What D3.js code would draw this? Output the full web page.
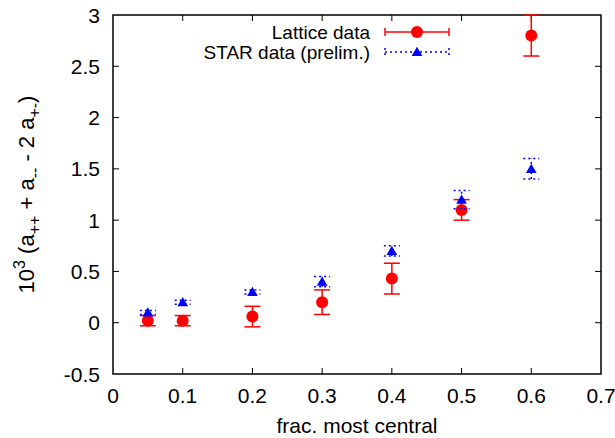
<!DOCTYPE html>
<html>
<head>
<meta charset="utf-8">
<script src="https://cdn.jsdelivr.net/npm/d3@7"></script>
<style>
  body { margin: 0; background: white; }
  svg { display: block; font-family: "Liberation Sans", Arial, sans-serif; }
</style>
</head>
<body>
<svg width="615" height="438"></svg>
<script>
  // data
  const frac = [0.05, 0.1, 0.2, 0.3, 0.4, 0.5, 0.6];
  const latticeVal = [0.02, 0.02, 0.06, 0.2, 0.43, 1.1, 2.8];
  const latticeErr = [0.05, 0.05, 0.1, 0.12, 0.15, 0.1, 0.2];
  const starVal = [0.1, 0.2, 0.3, 0.4, 0.7, 1.2, 1.5];
  const starErr = [0.02, 0.02, 0.02, 0.05, 0.05, 0.09, 0.1];
  const xTicks = [0, 0.1, 0.2, 0.3, 0.4, 0.5, 0.6, 0.7];
  const yTicks = [-0.5, 0, 0.5, 1, 1.5, 2, 2.5, 3];

  const margin = {left: 113, right: 14, top: 15, bottom: 64};
  const width = 615, height = 438;
  const fs = 21;

  const svg = d3.select("svg");

  const x = d3.scaleLinear().domain([0, 0.7]).range([margin.left, width - margin.right]);
  const y = d3.scaleLinear().domain([-0.5, 3]).range([height - margin.bottom, margin.top]);

  const red = "#ff0000", blue = "#0000ff";

  // frame
  svg.append("rect")
      .attr("x", x(0)).attr("y", y(3))
      .attr("width", x(0.7) - x(0)).attr("height", y(-0.5) - y(3))
      .attr("fill", "none").attr("stroke", "black").attr("stroke-width", 1.5);

  // ticks, inward on all four sides
  const tk = 6;
  const ticks = svg.append("g").attr("stroke", "black").attr("stroke-width", 1);
  xTicks.slice(1, -1).forEach(t => {
    ticks.append("line").attr("x1", x(t)).attr("x2", x(t)).attr("y1", y(-0.5)).attr("y2", y(-0.5) - tk);
    ticks.append("line").attr("x1", x(t)).attr("x2", x(t)).attr("y1", y(3)).attr("y2", y(3) + tk);
  });
  yTicks.slice(1, -1).forEach(t => {
    ticks.append("line").attr("x1", x(0)).attr("x2", x(0) + tk).attr("y1", y(t)).attr("y2", y(t));
    ticks.append("line").attr("x1", x(0.7)).attr("x2", x(0.7) - tk).attr("y1", y(t)).attr("y2", y(t));
  });

  // tick labels
  svg.append("g").selectAll("text").data(xTicks).join("text")
      .attr("x", d => x(d)).attr("y", 403)
      .attr("text-anchor", "middle").attr("font-size", fs)
      .text(d => d);
  svg.append("g").selectAll("text").data(yTicks).join("text")
      .attr("x", 100).attr("y", d => y(d) + 7.5)
      .attr("text-anchor", "end").attr("font-size", fs)
      .text(d => d);

  // axis titles
  svg.append("text")
      .attr("x", (x(0) + x(0.7)) / 2).attr("y", 433)
      .attr("text-anchor", "middle").attr("font-size", 21)
      .text("frac. most central");

  const yl = svg.append("text")
      .attr("transform", `translate(34,${(y(-0.5) + y(3)) / 2}) rotate(-90)`)
      .attr("text-anchor", "middle").attr("font-size", 22);
  const sub = 16;
  yl.append("tspan").text("10");
  yl.append("tspan").attr("font-size", sub).attr("dy", -9).text("3");
  yl.append("tspan").attr("dy", 9).text(" (a");
  yl.append("tspan").attr("font-size", sub).attr("dy", 6).text("++");
  yl.append("tspan").attr("dy", -6).text(" + a");
  yl.append("tspan").attr("font-size", sub).attr("dy", 6).text("--");
  yl.append("tspan").attr("dy", -6).text(" - 2 a");
  yl.append("tspan").attr("font-size", sub).attr("dy", 6).text("+-");
  yl.append("tspan").attr("dy", -6).text(")");

  const cap = 8;
  const lattice = frac.map((f, i) => ({x: f, v: latticeVal[i], e: latticeErr[i]}));
  const star = frac.map((f, i) => ({x: f, v: starVal[i], e: starErr[i]}));

  function errorBars(g, data, color, dash) {
    const gg = g.append("g").attr("stroke", color).attr("stroke-width", 1.5)
        .attr("stroke-dasharray", dash);
    data.forEach(d => {
      const lo = y(Math.max(d.v - d.e, -0.5)), hi = y(Math.min(d.v + d.e, 3));
      gg.append("line").attr("x1", x(d.x)).attr("x2", x(d.x)).attr("y1", lo).attr("y2", hi);
      gg.append("line").attr("x1", x(d.x) - cap).attr("x2", x(d.x) + cap).attr("y1", lo).attr("y2", lo);
      gg.append("line").attr("x1", x(d.x) - cap).attr("x2", x(d.x) + cap).attr("y1", hi).attr("y2", hi);
    });
  }

  const tri = d3.symbol().type(d3.symbolTriangle).size(50);

  const plot = svg.append("g");
  errorBars(plot, lattice, red, null);
  plot.append("g").selectAll("circle").data(lattice).join("circle")
      .attr("cx", d => x(d.x)).attr("cy", d => y(d.v)).attr("r", 6)
      .attr("fill", red);
  errorBars(plot, star, blue, "2,3");
  plot.append("g").selectAll("path").data(star).join("path")
      .attr("transform", d => `translate(${x(d.x)},${y(d.v) + 1})`)
      .attr("d", tri).attr("fill", blue);

  // legend
  const lg = svg.append("g").attr("font-size", 19);
  const rows = [
    {label: "Lattice data", color: red, dash: null, yy: 32},
    {label: "STAR data (prelim.)", color: blue, dash: "2,3", yy: 52}
  ];
  rows.forEach(r => {
    lg.append("text").attr("x", 370).attr("y", r.yy + 7).attr("text-anchor", "end").text(r.label);
    const s = lg.append("g").attr("stroke", r.color).attr("stroke-width", 1.5).attr("stroke-dasharray", r.dash);
    s.append("line").attr("x1", 385).attr("x2", 449).attr("y1", r.yy).attr("y2", r.yy);
    s.append("line").attr("x1", 385).attr("x2", 385).attr("y1", r.yy - 4).attr("y2", r.yy + 4);
    s.append("line").attr("x1", 449).attr("x2", 449).attr("y1", r.yy - 4).attr("y2", r.yy + 4);
  });
  lg.append("circle").attr("cx", 417).attr("cy", 32).attr("r", 6).attr("fill", red);
  lg.append("path").attr("transform", "translate(417,53)").attr("d", tri).attr("fill", blue);
</script>
</body>
</html>
